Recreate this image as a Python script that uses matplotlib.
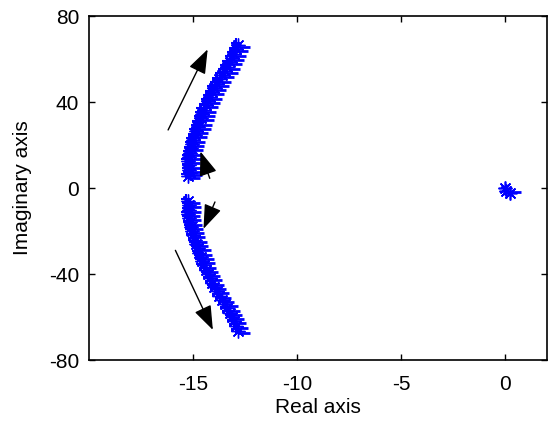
import matplotlib
matplotlib.use("Agg")
import matplotlib.pyplot as plt
import numpy as np

plt.rcParams['font.family'] = ['Liberation Sans', 'DejaVu Sans']
plt.rcParams['axes.unicode_minus'] = False

# Closed-loop pole locations as the gain parameter varies (upper branch)
upper_re = [-12.85, -12.95, -13.05, -13.15, -13.25, -13.35, -13.45, -13.6, -13.75, -13.85,
            -14.0, -14.1, -14.2, -14.3, -14.4, -14.5, -14.55, -14.6, -14.7, -14.75,
            -14.85, -14.9, -15.0, -15.05, -15.1, -15.15, -15.2, -15.25, -15.2, -15.2,
            -15.15, -15.25]
upper_im = [66.5, 64.5, 62.5, 60.5, 58.5, 56.5, 54.5, 52.5, 50.5, 48.5,
            46.5, 44.5, 42.5, 40.5, 38.5, 36.5, 34.5, 32.5, 30.5, 28.5,
            26.5, 24.5, 22.5, 20.5, 18.5, 16.5, 14.5, 12.5, 10.5, 8.5,
            7.0, 5.5]
# Lower branch (complex conjugates)
lower_re = [-15.25, -15.2, -15.2, -15.25, -15.2, -15.15, -15.1, -15.05, -15.0, -14.9,
            -14.85, -14.75, -14.7, -14.6, -14.55, -14.5, -14.4, -14.3, -14.2, -14.1,
            -14.0, -13.85, -13.75, -13.6, -13.45, -13.35, -13.25, -13.15, -13.05, -12.95,
            -12.85]
lower_im = [-6.0, -8.0, -10.0, -12.0, -14.0, -16.0, -18.0, -20.0, -22.0, -24.0,
            -26.0, -28.0, -30.0, -32.0, -34.0, -36.0, -38.0, -40.0, -42.0, -44.0,
            -46.0, -48.0, -50.0, -52.0, -54.0, -56.0, -58.0, -60.0, -62.0, -64.0,
            -66.5]
# Real pole near the origin
origin_re = [0.0, 0.05, 0.2]
origin_im = [0.0, -1.5, -2.5]

# Direction arrows: (tail_re, tail_im, head_re, head_im)
arrows = [(-16.2, 27.0, -14.3, 64.5),
          (-14.2, 4.5, -14.65, 17.0),
          (-13.95, -6.5, -14.5, -19.0),
          (-15.85, -29.0, -14.05, -66.0)]

x_ticks = [-15, -10, -5, 0]
y_ticks = [-80, -40, 0, 40, 80]

fig = plt.figure(figsize=(5.51, 4.21), dpi=100)
ax = fig.add_axes([89/551, 1-360/421, (547-89)/551, (360-16)/421])

blue = (0, 0, 1)
asterisk = (8, 2, 0)
for re, im in ((upper_re, upper_im), (lower_re, lower_im)):
    re = np.asarray(re); im = np.asarray(im)
    ax.plot(re, im, linestyle='none', marker=asterisk, ms=10, mec=blue, mew=1.0)
    ax.plot(re + 0.3, im - 1.0, linestyle='none', marker='_', ms=8, mec=blue, mew=2.0)
    ax.plot(re - 0.1, im + 0.8, linestyle='none', marker='+', ms=7, mec=blue, mew=1.5)
ax.plot(origin_re, origin_im, linestyle='none', marker=asterisk, ms=10, mec=blue, mew=1.2)
ax.plot(origin_re[2] + 0.3, origin_im[2] + 0.5, linestyle='none', marker='_', ms=7, mec=blue, mew=2.0)

for tr, ti, hr, hi in arrows:
    ax.annotate('', xy=(hr, hi), xytext=(tr, ti),
                arrowprops=dict(arrowstyle='-|>,head_length=1.5,head_width=0.55',
                                color='k', lw=1.0, shrinkA=0, shrinkB=0))

ax.set_xlim(-20, 2)
ax.set_ylim(-80, 80)
ax.set_xticks(x_ticks)
ax.set_yticks(y_ticks)
ax.tick_params(direction='in', length=4, width=1, top=True, right=True, labelsize=15)
ax.tick_params(axis='x', pad=11)
ax.tick_params(axis='y', pad=7)
for s in ax.spines.values():
    s.set_linewidth(1.2)
ax.set_xlabel('Real axis', fontsize=15, labelpad=3)
ax.set_ylabel('Imaginary axis', fontsize=15, labelpad=12)

fig.savefig('out.png', dpi=100)
